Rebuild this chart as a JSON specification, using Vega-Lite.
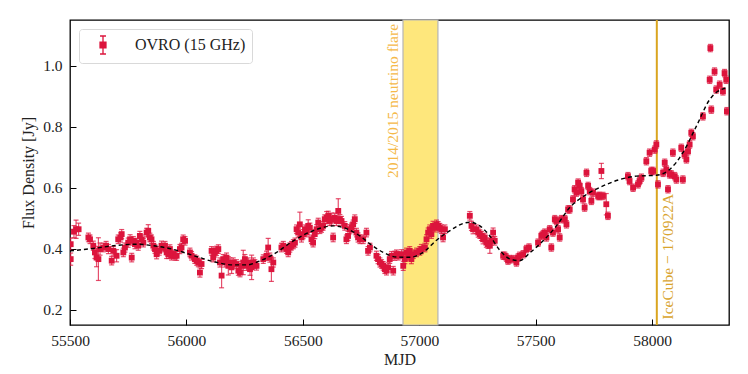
{
"$schema": "https://vega.github.io/schema/vega-lite/v6.json",
"width": 659, "height": 305,
"autosize": {"type": "none"},
"padding": {"left": 70, "top": 20, "right": 19, "bottom": 49},
"background": "white",
"config": {
  "view": {"stroke": "#000000", "strokeWidth": 1.3},
  "font": "Liberation Serif",
  "axis": {"domain": false, "grid": false, "tickColor": "#000000", "tickSize": -6, "tickWidth": 1, "labelFont": "Liberation Serif", "labelFontSize": 15.5, "labelColor": "#222222", "titleFont": "Liberation Serif", "titleFontSize": 16, "titleFontWeight": "normal", "titleColor": "#222222"},
  "legend": {"orient": "top-left", "offset": 9, "padding": 6, "strokeColor": "#d9d9d9", "fillColor": "#ffffff", "cornerRadius": 3, "symbolType": "M-0.33,-1H0.33M0,-1V1M-0.33,1H0.33M-0.33,-0.33H0.33V0.33H-0.33Z", "symbolSize": 324, "symbolOffset": 8, "labelOffset": 22, "labelFont": "Liberation Serif", "labelFontSize": 16, "labelColor": "#222222", "symbolStrokeColor": "#dc143c", "symbolFillColor": "#dc143c", "symbolStrokeWidth": 1.3, "symbolOpacity": 1}
},
"datasets": {
"band": [{"mjd": 56930, "mjd2": 57080}],
"ice": [{"mjd": 58020}],
"notes": [
  {"mjd": 56886, "flux": 1.137, "label": "2014/2015 neutrino flare", "kind": "flare"},
  {"mjd": 58066, "flux": 0.168, "label": "IceCube − 170922A", "kind": "ice"}
],
"fit": [
{"mjd":55500,"flux":0.393},{"mjd":55600,"flux":0.401},{"mjd":55700,"flux":0.411},{"mjd":55786,"flux":0.415},{"mjd":55858,"flux":0.410},{"mjd":55943,"flux":0.398},{"mjd":56029,"flux":0.378},{"mjd":56115,"flux":0.358},{"mjd":56201,"flux":0.347},{"mjd":56258,"flux":0.347},{"mjd":56315,"flux":0.360},{"mjd":56387,"flux":0.388},{"mjd":56459,"flux":0.426},{"mjd":56544,"flux":0.459},{"mjd":56630,"flux":0.475},{"mjd":56687,"flux":0.466},{"mjd":56745,"flux":0.442},{"mjd":56790,"flux":0.415},{"mjd":56845,"flux":0.388},{"mjd":56902,"flux":0.373},{"mjd":56959,"flux":0.372},{"mjd":57017,"flux":0.388},{"mjd":57074,"flux":0.428},{"mjd":57117,"flux":0.452},{"mjd":57217,"flux":0.487},{"mjd":57260,"flux":0.475},{"mjd":57303,"flux":0.442},{"mjd":57346,"flux":0.395},{"mjd":57388,"flux":0.367},{"mjd":57431,"flux":0.361},{"mjd":57474,"flux":0.386},{"mjd":57532,"flux":0.426},{"mjd":57589,"flux":0.475},{"mjd":57646,"flux":0.535},{"mjd":57718,"flux":0.578},{"mjd":57789,"flux":0.606},{"mjd":57861,"flux":0.627},{"mjd":57932,"flux":0.638},{"mjd":58018,"flux":0.641},{"mjd":58075,"flux":0.660},{"mjd":58132,"flux":0.715},{"mjd":58190,"flux":0.802},{"mjd":58247,"flux":0.889},{"mjd":58304,"flux":0.924},{"mjd":58325,"flux":0.927}
],
"obs": [
{"mjd":55503,"flux":0.415,"err":0.02},{"mjd":55503,"flux":0.366,"err":0.02},{"mjd":55517,"flux":0.456,"err":0.02},{"mjd":55526,"flux":0.464,"err":0.03},{"mjd":55537,"flux":0.464,"err":0.02},{"mjd":55579,"flux":0.437,"err":0.014},{"mjd":55586,"flux":0.431,"err":0.014},{"mjd":55600,"flux":0.41,"err":0.015},{"mjd":55607,"flux":0.388,"err":0.02},{"mjd":55614,"flux":0.371,"err":0.03},{"mjd":55622,"flux":0.366,"err":0.07},{"mjd":55629,"flux":0.399,"err":0.02},{"mjd":55643,"flux":0.404,"err":0.014},{"mjd":55655,"flux":0.41,"err":0.014},{"mjd":55665,"flux":0.399,"err":0.015},{"mjd":55679,"flux":0.361,"err":0.014},{"mjd":55686,"flux":0.393,"err":0.014},{"mjd":55700,"flux":0.377,"err":0.02},{"mjd":55707,"flux":0.431,"err":0.014},{"mjd":55717,"flux":0.437,"err":0.015},{"mjd":55722,"flux":0.448,"err":0.015},{"mjd":55729,"flux":0.388,"err":0.014},{"mjd":55736,"flux":0.404,"err":0.015},{"mjd":55750,"flux":0.42,"err":0.015},{"mjd":55758,"flux":0.431,"err":0.015},{"mjd":55765,"flux":0.371,"err":0.014},{"mjd":55772,"flux":0.426,"err":0.014},{"mjd":55779,"flux":0.415,"err":0.015},{"mjd":55786,"flux":0.42,"err":0.014},{"mjd":55793,"flux":0.41,"err":0.015},{"mjd":55800,"flux":0.442,"err":0.015},{"mjd":55808,"flux":0.431,"err":0.014},{"mjd":55815,"flux":0.42,"err":0.014},{"mjd":55829,"flux":0.453,"err":0.014},{"mjd":55836,"flux":0.459,"err":0.02},{"mjd":55843,"flux":0.437,"err":0.014},{"mjd":55850,"flux":0.431,"err":0.014},{"mjd":55858,"flux":0.41,"err":0.014},{"mjd":55865,"flux":0.399,"err":0.014},{"mjd":55872,"flux":0.382,"err":0.015},{"mjd":55883,"flux":0.393,"err":0.014},{"mjd":55893,"flux":0.41,"err":0.015},{"mjd":55901,"flux":0.404,"err":0.014},{"mjd":55908,"flux":0.41,"err":0.014},{"mjd":55915,"flux":0.388,"err":0.02},{"mjd":55922,"flux":0.382,"err":0.014},{"mjd":55929,"flux":0.399,"err":0.014},{"mjd":55936,"flux":0.377,"err":0.014},{"mjd":55943,"flux":0.382,"err":0.014},{"mjd":55951,"flux":0.377,"err":0.014},{"mjd":55958,"flux":0.377,"err":0.015},{"mjd":55972,"flux":0.399,"err":0.015},{"mjd":55979,"flux":0.404,"err":0.014},{"mjd":55986,"flux":0.431,"err":0.014},{"mjd":55994,"flux":0.426,"err":0.014},{"mjd":56015,"flux":0.388,"err":0.014},{"mjd":56022,"flux":0.377,"err":0.014},{"mjd":56036,"flux":0.366,"err":0.014},{"mjd":56044,"flux":0.361,"err":0.015},{"mjd":56051,"flux":0.355,"err":0.014},{"mjd":56058,"flux":0.322,"err":0.015},{"mjd":56065,"flux":0.35,"err":0.015},{"mjd":56108,"flux":0.393,"err":0.014},{"mjd":56115,"flux":0.371,"err":0.014},{"mjd":56122,"flux":0.388,"err":0.015},{"mjd":56129,"flux":0.393,"err":0.015},{"mjd":56137,"flux":0.399,"err":0.014},{"mjd":56144,"flux":0.355,"err":0.015},{"mjd":56151,"flux":0.312,"err":0.04},{"mjd":56158,"flux":0.366,"err":0.015},{"mjd":56165,"flux":0.355,"err":0.015},{"mjd":56172,"flux":0.371,"err":0.015},{"mjd":56180,"flux":0.344,"err":0.03},{"mjd":56187,"flux":0.355,"err":0.015},{"mjd":56194,"flux":0.339,"err":0.02},{"mjd":56201,"flux":0.355,"err":0.015},{"mjd":56215,"flux":0.35,"err":0.014},{"mjd":56223,"flux":0.328,"err":0.015},{"mjd":56230,"flux":0.322,"err":0.014},{"mjd":56237,"flux":0.344,"err":0.015},{"mjd":56244,"flux":0.355,"err":0.04},{"mjd":56251,"flux":0.366,"err":0.015},{"mjd":56258,"flux":0.344,"err":0.015},{"mjd":56265,"flux":0.355,"err":0.015},{"mjd":56273,"flux":0.333,"err":0.02},{"mjd":56280,"flux":0.339,"err":0.04},{"mjd":56287,"flux":0.355,"err":0.015},{"mjd":56294,"flux":0.35,"err":0.014},{"mjd":56301,"flux":0.344,"err":0.014},{"mjd":56330,"flux":0.366,"err":0.014},{"mjd":56344,"flux":0.377,"err":0.015},{"mjd":56351,"flux":0.404,"err":0.03},{"mjd":56358,"flux":0.371,"err":0.015},{"mjd":56365,"flux":0.333,"err":0.04},{"mjd":56373,"flux":0.355,"err":0.015},{"mjd":56408,"flux":0.404,"err":0.014},{"mjd":56416,"flux":0.41,"err":0.014},{"mjd":56430,"flux":0.399,"err":0.014},{"mjd":56437,"flux":0.388,"err":0.014},{"mjd":56444,"flux":0.404,"err":0.015},{"mjd":56451,"flux":0.41,"err":0.014},{"mjd":56459,"flux":0.415,"err":0.015},{"mjd":56466,"flux":0.42,"err":0.015},{"mjd":56473,"flux":0.464,"err":0.014},{"mjd":56480,"flux":0.453,"err":0.015},{"mjd":56487,"flux":0.48,"err":0.04},{"mjd":56494,"flux":0.437,"err":0.015},{"mjd":56501,"flux":0.448,"err":0.015},{"mjd":56509,"flux":0.464,"err":0.014},{"mjd":56516,"flux":0.453,"err":0.014},{"mjd":56523,"flux":0.475,"err":0.02},{"mjd":56530,"flux":0.469,"err":0.015},{"mjd":56537,"flux":0.431,"err":0.014},{"mjd":56544,"flux":0.42,"err":0.014},{"mjd":56551,"flux":0.448,"err":0.015},{"mjd":56559,"flux":0.464,"err":0.015},{"mjd":56566,"flux":0.486,"err":0.014},{"mjd":56573,"flux":0.464,"err":0.014},{"mjd":56580,"flux":0.469,"err":0.015},{"mjd":56587,"flux":0.475,"err":0.014},{"mjd":56594,"flux":0.497,"err":0.014},{"mjd":56602,"flux":0.502,"err":0.02},{"mjd":56609,"flux":0.508,"err":0.015},{"mjd":56616,"flux":0.491,"err":0.015},{"mjd":56623,"flux":0.497,"err":0.02},{"mjd":56630,"flux":0.437,"err":0.014},{"mjd":56637,"flux":0.502,"err":0.015},{"mjd":56644,"flux":0.491,"err":0.015},{"mjd":56652,"flux":0.524,"err":0.04},{"mjd":56659,"flux":0.497,"err":0.015},{"mjd":56666,"flux":0.491,"err":0.015},{"mjd":56680,"flux":0.475,"err":0.014},{"mjd":56687,"flux":0.431,"err":0.014},{"mjd":56694,"flux":0.442,"err":0.015},{"mjd":56702,"flux":0.464,"err":0.015},{"mjd":56709,"flux":0.469,"err":0.015},{"mjd":56716,"flux":0.48,"err":0.014},{"mjd":56723,"flux":0.497,"err":0.014},{"mjd":56730,"flux":0.453,"err":0.014},{"mjd":56737,"flux":0.437,"err":0.015},{"mjd":56745,"flux":0.431,"err":0.014},{"mjd":56759,"flux":0.431,"err":0.014},{"mjd":56773,"flux":0.453,"err":0.014},{"mjd":56780,"flux":0.393,"err":0.014},
{"mjd":56788,"flux":0.404,"err":0.014},{"mjd":56816,"flux":0.377,"err":0.015},{"mjd":56823,"flux":0.366,"err":0.015},{"mjd":56831,"flux":0.355,"err":0.015},{"mjd":56838,"flux":0.35,"err":0.014},{"mjd":56845,"flux":0.344,"err":0.014},{"mjd":56852,"flux":0.333,"err":0.014},{"mjd":56859,"flux":0.328,"err":0.014},{"mjd":56866,"flux":0.339,"err":0.015},{"mjd":56873,"flux":0.366,"err":0.014},{"mjd":56881,"flux":0.377,"err":0.014},{"mjd":56888,"flux":0.328,"err":0.014},{"mjd":56895,"flux":0.377,"err":0.015},{"mjd":56902,"flux":0.382,"err":0.014},{"mjd":56909,"flux":0.377,"err":0.014},{"mjd":56924,"flux":0.382,"err":0.015},{"mjd":56931,"flux":0.344,"err":0.015},{"mjd":56938,"flux":0.366,"err":0.015},{"mjd":56945,"flux":0.388,"err":0.014},{"mjd":56952,"flux":0.377,"err":0.014},{"mjd":56959,"flux":0.393,"err":0.014},{"mjd":56966,"flux":0.366,"err":0.015},{"mjd":56974,"flux":0.382,"err":0.014},{"mjd":56988,"flux":0.388,"err":0.014},{"mjd":57002,"flux":0.393,"err":0.014},{"mjd":57009,"flux":0.399,"err":0.015},{"mjd":57024,"flux":0.404,"err":0.014},{"mjd":57031,"flux":0.431,"err":0.015},{"mjd":57038,"flux":0.453,"err":0.015},{"mjd":57045,"flux":0.464,"err":0.014},{"mjd":57052,"flux":0.448,"err":0.014},{"mjd":57059,"flux":0.475,"err":0.015},{"mjd":57067,"flux":0.469,"err":0.014},{"mjd":57074,"flux":0.48,"err":0.014},{"mjd":57081,"flux":0.475,"err":0.014},{"mjd":57088,"flux":0.469,"err":0.014},{"mjd":57095,"flux":0.464,"err":0.014},{"mjd":57102,"flux":0.437,"err":0.014},{"mjd":57110,"flux":0.464,"err":0.014},
{"mjd":57217,"flux":0.508,"err":0.014},{"mjd":57224,"flux":0.475,"err":0.015},{"mjd":57231,"flux":0.464,"err":0.015},{"mjd":57245,"flux":0.464,"err":0.014},{"mjd":57253,"flux":0.453,"err":0.015},{"mjd":57260,"flux":0.448,"err":0.014},{"mjd":57267,"flux":0.442,"err":0.015},{"mjd":57274,"flux":0.431,"err":0.015},{"mjd":57281,"flux":0.437,"err":0.014},{"mjd":57288,"flux":0.42,"err":0.015},{"mjd":57295,"flux":0.415,"err":0.014},{"mjd":57303,"flux":0.41,"err":0.025},{"mjd":57310,"flux":0.426,"err":0.014},{"mjd":57317,"flux":0.453,"err":0.015},{"mjd":57324,"flux":0.426,"err":0.014},{"mjd":57360,"flux":0.377,"err":0.012},{"mjd":57367,"flux":0.377,"err":0.012},{"mjd":57374,"flux":0.371,"err":0.012},{"mjd":57381,"flux":0.361,"err":0.012},{"mjd":57388,"flux":0.366,"err":0.012},{"mjd":57403,"flux":0.366,"err":0.012},{"mjd":57417,"flux":0.355,"err":0.012},{"mjd":57424,"flux":0.371,"err":0.012},{"mjd":57431,"flux":0.377,"err":0.012},{"mjd":57446,"flux":0.382,"err":0.012},{"mjd":57460,"flux":0.399,"err":0.012},{"mjd":57471,"flux":0.404,"err":0.012},{"mjd":57510,"flux":0.42,"err":0.012},{"mjd":57524,"flux":0.442,"err":0.012},{"mjd":57532,"flux":0.448,"err":0.012},{"mjd":57539,"flux":0.453,"err":0.012},{"mjd":57546,"flux":0.437,"err":0.012},{"mjd":57560,"flux":0.464,"err":0.012},{"mjd":57567,"flux":0.404,"err":0.012},{"mjd":57574,"flux":0.453,"err":0.012},{"mjd":57582,"flux":0.497,"err":0.012},{"mjd":57589,"flux":0.491,"err":0.012},{"mjd":57596,"flux":0.464,"err":0.012},{"mjd":57603,"flux":0.437,"err":0.012},{"mjd":57610,"flux":0.497,"err":0.012},{"mjd":57625,"flux":0.497,"err":0.012},{"mjd":57632,"flux":0.48,"err":0.012},{"mjd":57639,"flux":0.529,"err":0.012},{"mjd":57646,"flux":0.529,"err":0.012},{"mjd":57660,"flux":0.562,"err":0.012},{"mjd":57667,"flux":0.595,"err":0.012},{"mjd":57675,"flux":0.584,"err":0.012},{"mjd":57682,"flux":0.617,"err":0.012},{"mjd":57689,"flux":0.606,"err":0.012},{"mjd":57696,"flux":0.589,"err":0.012},{"mjd":57703,"flux":0.562,"err":0.012},{"mjd":57710,"flux":0.535,"err":0.012},{"mjd":57718,"flux":0.649,"err":0.012},{"mjd":57725,"flux":0.606,"err":0.012},{"mjd":57732,"flux":0.589,"err":0.012},{"mjd":57739,"flux":0.557,"err":0.012},{"mjd":57746,"flux":0.584,"err":0.012},{"mjd":57768,"flux":0.573,"err":0.012},{"mjd":57775,"flux":0.573,"err":0.012},{"mjd":57782,"flux":0.655,"err":0.025},{"mjd":57789,"flux":0.573,"err":0.012},{"mjd":57803,"flux":0.546,"err":0.035},{"mjd":57810,"flux":0.508,"err":0.012},
{"mjd":57896,"flux":0.638,"err":0.012},{"mjd":57903,"flux":0.622,"err":0.012},{"mjd":57918,"flux":0.6,"err":0.012},{"mjd":57939,"flux":0.611,"err":0.012},{"mjd":57946,"flux":0.622,"err":0.012},{"mjd":57954,"flux":0.633,"err":0.012},{"mjd":57975,"flux":0.687,"err":0.012},{"mjd":57989,"flux":0.715,"err":0.012},{"mjd":57996,"flux":0.655,"err":0.012},{"mjd":58004,"flux":0.655,"err":0.012},{"mjd":58011,"flux":0.725,"err":0.012},{"mjd":58018,"flux":0.742,"err":0.012},{"mjd":58025,"flux":0.611,"err":0.012},{"mjd":58047,"flux":0.649,"err":0.012},{"mjd":58054,"flux":0.682,"err":0.012},{"mjd":58061,"flux":0.66,"err":0.012},{"mjd":58068,"flux":0.595,"err":0.012},{"mjd":58075,"flux":0.644,"err":0.012},{"mjd":58082,"flux":0.644,"err":0.012},{"mjd":58089,"flux":0.715,"err":0.012},{"mjd":58097,"flux":0.638,"err":0.012},{"mjd":58104,"flux":0.627,"err":0.012},{"mjd":58125,"flux":0.731,"err":0.012},{"mjd":58132,"flux":0.627,"err":0.012},{"mjd":58139,"flux":0.709,"err":0.012},{"mjd":58147,"flux":0.693,"err":0.012},{"mjd":58154,"flux":0.72,"err":0.012},{"mjd":58161,"flux":0.742,"err":0.012},{"mjd":58168,"flux":0.78,"err":0.012},{"mjd":58175,"flux":0.769,"err":0.012},{"mjd":58218,"flux":0.834,"err":0.012},{"mjd":58247,"flux":0.954,"err":0.012},{"mjd":58250,"flux":1.058,"err":0.012},{"mjd":58254,"flux":0.856,"err":0.012},{"mjd":58268,"flux":0.981,"err":0.012},{"mjd":58275,"flux":0.922,"err":0.012},{"mjd":58290,"flux":0.938,"err":0.012},{"mjd":58304,"flux":0.916,"err":0.012},{"mjd":58311,"flux":0.976,"err":0.012},{"mjd":58318,"flux":0.954,"err":0.012},{"mjd":58321,"flux":0.851,"err":0.012}
]
},
"encoding": {
  "x": {"field": "mjd", "type": "quantitative", "scale": {"domain": [55500, 58330], "nice": false, "zero": false}, "axis": {"title": "MJD", "values": [55500, 56000, 56500, 57000, 57500, 58000], "format": "d", "labelPadding": 14, "titlePadding": 3, "labelFlush": false}},
  "y": {"field": "flux", "type": "quantitative", "scale": {"domain": [0.15, 1.15], "nice": false, "zero": false}, "axis": {"title": "Flux Density [Jy]", "values": [0.2, 0.4, 0.6, 0.8, 1.0], "format": ".1f", "labelPadding": 14, "titlePadding": 6, "labelFlush": false}}
},
"layer": [
  {"data": {"name": "band"}, "mark": {"type": "rect", "fill": "#fee77c", "stroke": "#b5b5b5", "strokeWidth": 1.2}, "encoding": {"x": {"field": "mjd", "type": "quantitative"}, "x2": {"field": "mjd2"}, "y": null}},
  {"data": {"name": "ice"}, "mark": {"type": "rule", "color": "#daa520", "strokeWidth": 2}, "encoding": {"x": {"field": "mjd", "type": "quantitative"}, "y": null}},
  {"data": {"name": "obs"}, "mark": {"type": "errorbar", "ticks": true, "color": "#dc143c", "opacity": 0.75, "thickness": 1.2, "clip": true}, "encoding": {"yError": {"field": "err"}}},
  {"data": {"name": "obs"}, "mark": {"type": "point", "shape": "square", "filled": true, "size": 34, "opacity": 1, "clip": true}, "encoding": {"color": {"datum": "OVRO (15 GHz)", "type": "nominal", "scale": {"range": ["#dc143c"]}, "legend": {"title": null}}}},
  {"data": {"name": "fit"}, "mark": {"type": "line", "color": "#000000", "strokeDash": [4, 3], "strokeWidth": 1.4, "interpolate": "monotone", "clip": true}, "encoding": {}},
  {"data": {"name": "notes"}, "transform": [{"filter": "datum.kind == 'flare'"}], "mark": {"type": "text", "angle": 270, "align": "right", "baseline": "middle", "font": "Liberation Serif", "fontSize": 15.5, "color": "#f5b948"}, "encoding": {"text": {"field": "label"}}},
  {"data": {"name": "notes"}, "transform": [{"filter": "datum.kind == 'ice'"}], "mark": {"type": "text", "angle": 270, "align": "left", "baseline": "middle", "font": "Liberation Serif", "fontSize": 15.5, "color": "#d9a42e"}, "encoding": {"text": {"field": "label"}}}
]
}
